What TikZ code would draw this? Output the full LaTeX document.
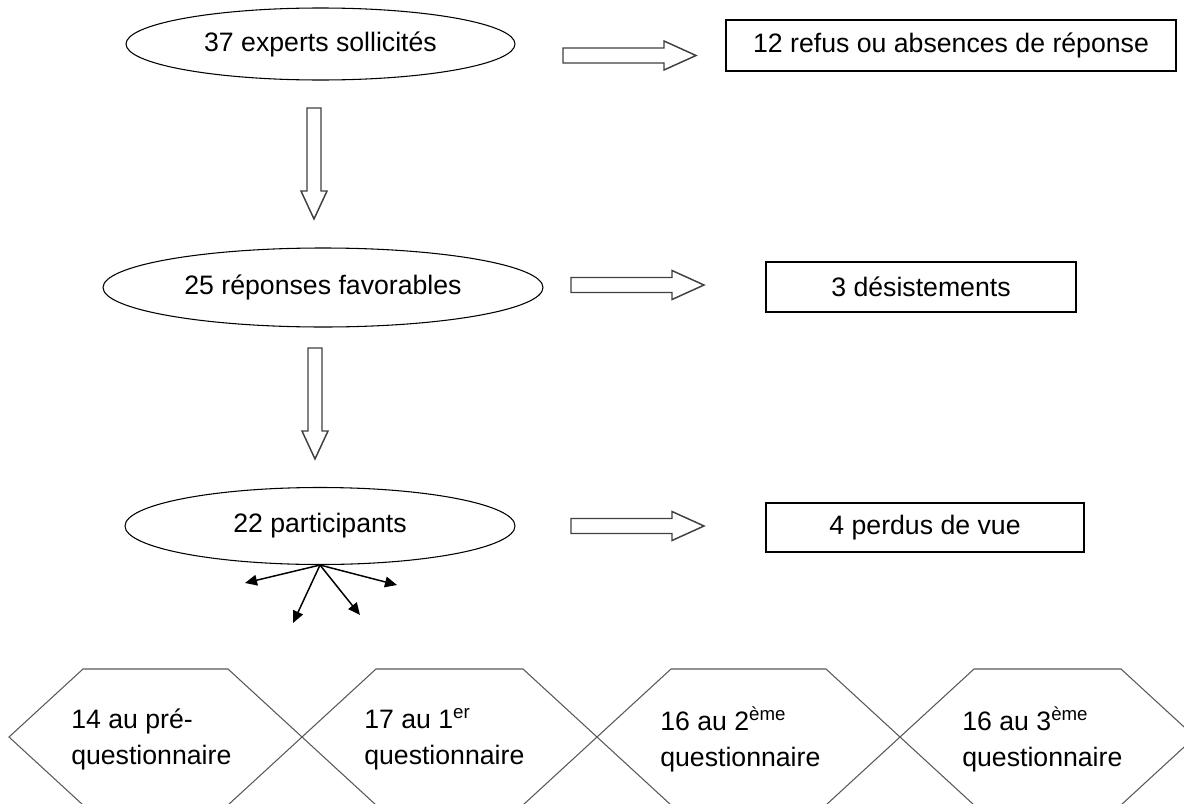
\documentclass[tikz,border=0pt]{standalone}
\usepackage{fontspec}
\setmainfont{Liberation Sans}
\usetikzlibrary{shapes.geometric, arrows.meta}

\begin{document}
\begin{tikzpicture}[x=0.75pt, y=-0.75pt,
		every node/.style={font=\fontsize{20}{27}\selectfont, inner sep=0pt},
		stage/.style={draw, ellipse, line width=0.8pt},
		loss/.style={draw, rectangle, line width=0.8pt},
		blockarrow/.style={draw=black!75, line width=1.1pt, fill=white},
		hexa/.style={draw=black!65, line width=0.8pt}]
		\useasboundingbox (0,0) rectangle (1184,803);
		
		% stages
		\node[stage, minimum width=291.75pt, minimum height=54pt] (p1) at (320.5,44) {37 experts sollicités};
		\node[stage, minimum width=330pt, minimum height=59.25pt] (p2) at (323,287.5) {25 réponses favorables};
		\node[stage, minimum width=292.5pt, minimum height=57.75pt] (p3) at (320,526) {22 participants};
		
		% losses
		\node[loss, minimum width=337.5pt, minimum height=38.25pt] (r1) at (951,45.5) {12 refus ou absences de réponse};
		\node[loss, minimum width=232.5pt, minimum height=37.5pt] (r2) at (921,287) {3 désistements};
		\node[loss, minimum width=238.5pt, minimum height=36.75pt] (r3) at (925,527.5) {4 perdus de vue};
		
		% block arrows to the right
		\foreach \x/\y in {563/55.5, 571/285, 571/526}{
			\draw[blockarrow] (\x,\y-7.5) -- ++(101,0) -- ++(0,-7) -- ++(32,14.5) -- ++(-32,14.5) -- ++(0,-7) -- ++(-101,0) -- cycle;
		}
		
		% block arrows downwards
		\foreach \x/\y in {314/108, 315/348}{
			\draw[blockarrow] (\x-7,\y) -- ++(0,83) -- ++(-6,0) -- ++(13,28) -- ++(13,-28) -- ++(-6,0) -- ++(0,-83) -- cycle;
		}
		
		% split of the participants
		\coordinate (s1) at (245,583);
		\coordinate (s2) at (293,623);
		\coordinate (s3) at (360,615);
		\coordinate (s4) at (397,585);
		\foreach \s in {s1,s2,s3,s4}{
			\draw[line width=1.1pt, -{Triangle[length=9pt, width=8pt]}] (p3.south) -- (\s);
		}
		
		% questionnaires
		\foreach \l/\w in {9/293, 302/295, 597/303, 900/295}{
			\draw[hexa] (\l,737) -- (\l+74,669) -- (\l+\w-74,669) -- (\l+\w,737) -- (\l+\w-74,805) -- (\l+74,805) -- cycle;
		}
		\node[anchor=west, align=left] (q1) at (71,739) {14 au pré-\\questionnaire};
		\node[anchor=west, align=left] (q2) at (364,739) {17 au 1\textsuperscript{er}\\questionnaire};
		\node[anchor=west, align=left] (q3) at (660,739) {16 au 2\textsuperscript{ème}\\questionnaire};
		\node[anchor=west, align=left] (q4) at (962,739) {16 au 3\textsuperscript{ème}\\questionnaire};
	\end{tikzpicture}
\end{document}
